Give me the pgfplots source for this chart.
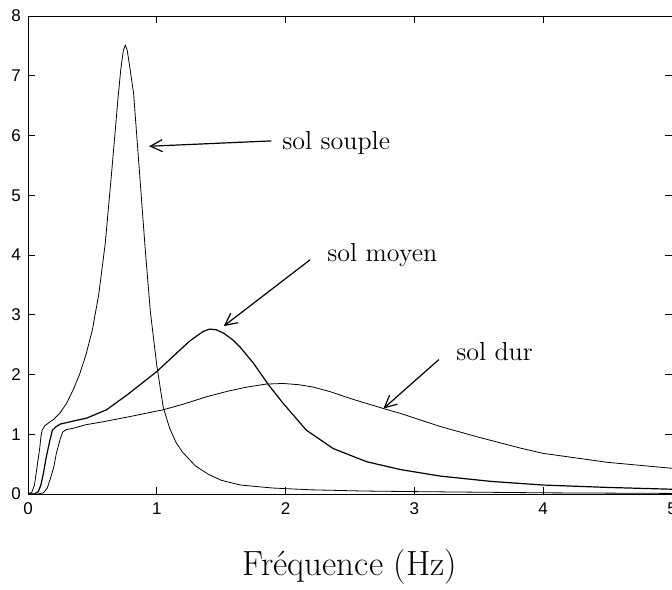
\documentclass[border=0pt]{standalone}
\usepackage{fontspec}
\usepackage{pgfplots}
\pgfplotsset{compat=1.18}
\usetikzlibrary{arrows.meta}
\newfontfamily\ticksf{Liberation Sans}

\pgfplotstableread{
x y
0 0
0.03 0.03
0.05 0.15
0.07 0.45
0.09 0.75
0.10 0.95
0.11 1.07
0.13 1.14
0.16 1.19
0.20 1.25
0.25 1.36
0.30 1.52
0.35 1.74
0.40 2.00
0.45 2.33
0.50 2.75
0.55 3.35
0.60 4.20
0.65 5.40
0.70 6.65
0.72 7.10
0.74 7.42
0.755 7.51
0.77 7.43
0.79 7.15
0.82 6.70
0.86 5.55
0.91 4.10
0.95 3.05
1.00 2.15
1.05 1.45
1.10 1.10
1.15 0.86
1.20 0.70
1.30 0.47
1.40 0.33
1.50 0.23
1.65 0.15
1.90 0.10
2.20 0.07
2.60 0.05
3.00 0.04
4.00 0.02
5.00 0.01
}\souple

\pgfplotstableread{
x y
0 0
0.05 0.0
0.08 0.04
0.10 0.15
0.12 0.35
0.14 0.60
0.17 0.90
0.19 1.07
0.22 1.13
0.25 1.17
0.35 1.22
0.455 1.27
0.61 1.41
0.77 1.66
0.90 1.88
1.00 2.05
1.10 2.25
1.18 2.41
1.25 2.55
1.30 2.63
1.36 2.72
1.41 2.76
1.46 2.75
1.52 2.69
1.59 2.58
1.65 2.45
1.75 2.19
1.87 1.82
1.98 1.52
2.16 1.07
2.37 0.76
2.63 0.54
2.89 0.41
3.20 0.30
3.60 0.21
4.00 0.15
4.50 0.11
5.00 0.08
}\moyen

\pgfplotstableread{
x y
0 0
0.08 0.0
0.12 0.02
0.15 0.10
0.17 0.23
0.20 0.45
0.22 0.68
0.25 0.92
0.27 1.04
0.30 1.08
0.35 1.10
0.45 1.16
0.585 1.21
0.80 1.30
1.05 1.41
1.20 1.50
1.39 1.63
1.55 1.72
1.70 1.79
1.85 1.84
1.98 1.85
2.10 1.83
2.215 1.79
2.35 1.71
2.50 1.60
2.76 1.43
2.89 1.35
3.20 1.13
3.50 0.95
3.82 0.77
4.00 0.68
4.50 0.53
5.00 0.43
}\dur

\begin{document}
\begin{tikzpicture}
\useasboundingbox (0,0) rectangle (336pt,294.5pt);
\begin{axis}[
    at={(14pt,47.5pt)}, anchor=south west,
    scale only axis,
    width=322pt, height=239pt,
    xmin=0, xmax=5, ymin=0, ymax=8,
    xtick={0,1,2,3,4,5},
    ytick={0,1,2,3,4,5,6,7,8},
    tick align=inside,
    major tick length=3.5pt,
    tick style={black, line width=0.4pt},
    axis line style={line width=0.5pt},
    /pgf/number format/assume math mode=true,
    tick label style={font=\ticksf\fontsize{8.5}{9}\selectfont},
    xticklabel style={yshift=-1pt},
    xlabel={Fréquence (Hz)},
    xlabel style={at={(axis description cs:0.5,0)}, anchor=center,
                  yshift=-36.5pt, font=\fontsize{17.5}{19}\selectfont},
    cycle list={{black, line width=0.6pt, no marks, smooth, tension=0.5}},
]
\addplot table {\souple};
\addplot table {\moyen};
\addplot table {\dur};

\node[anchor=west, font=\fontsize{13}{15}\selectfont] at (axis cs:1.92,5.87) {sol souple};
\draw[-{Straight Barb[length=6pt,width=6pt]}, line width=0.6pt]
    (axis cs:1.89,5.91) -- (axis cs:0.94,5.82);
\node[anchor=west, font=\fontsize{13}{15}\selectfont] at (axis cs:2.27,4.0) {sol moyen};
\draw[-{Straight Barb[length=6pt,width=6pt]}, line width=0.6pt]
    (axis cs:2.19,3.92) -- (axis cs:1.52,2.81);
\node[anchor=west, font=\fontsize{13}{15}\selectfont] at (axis cs:3.27,2.38) {sol dur};
\draw[-{Straight Barb[length=6pt,width=6pt]}, line width=0.6pt]
    (axis cs:3.19,2.25) -- (axis cs:2.76,1.43);
\end{axis}
\end{tikzpicture}
\end{document}
